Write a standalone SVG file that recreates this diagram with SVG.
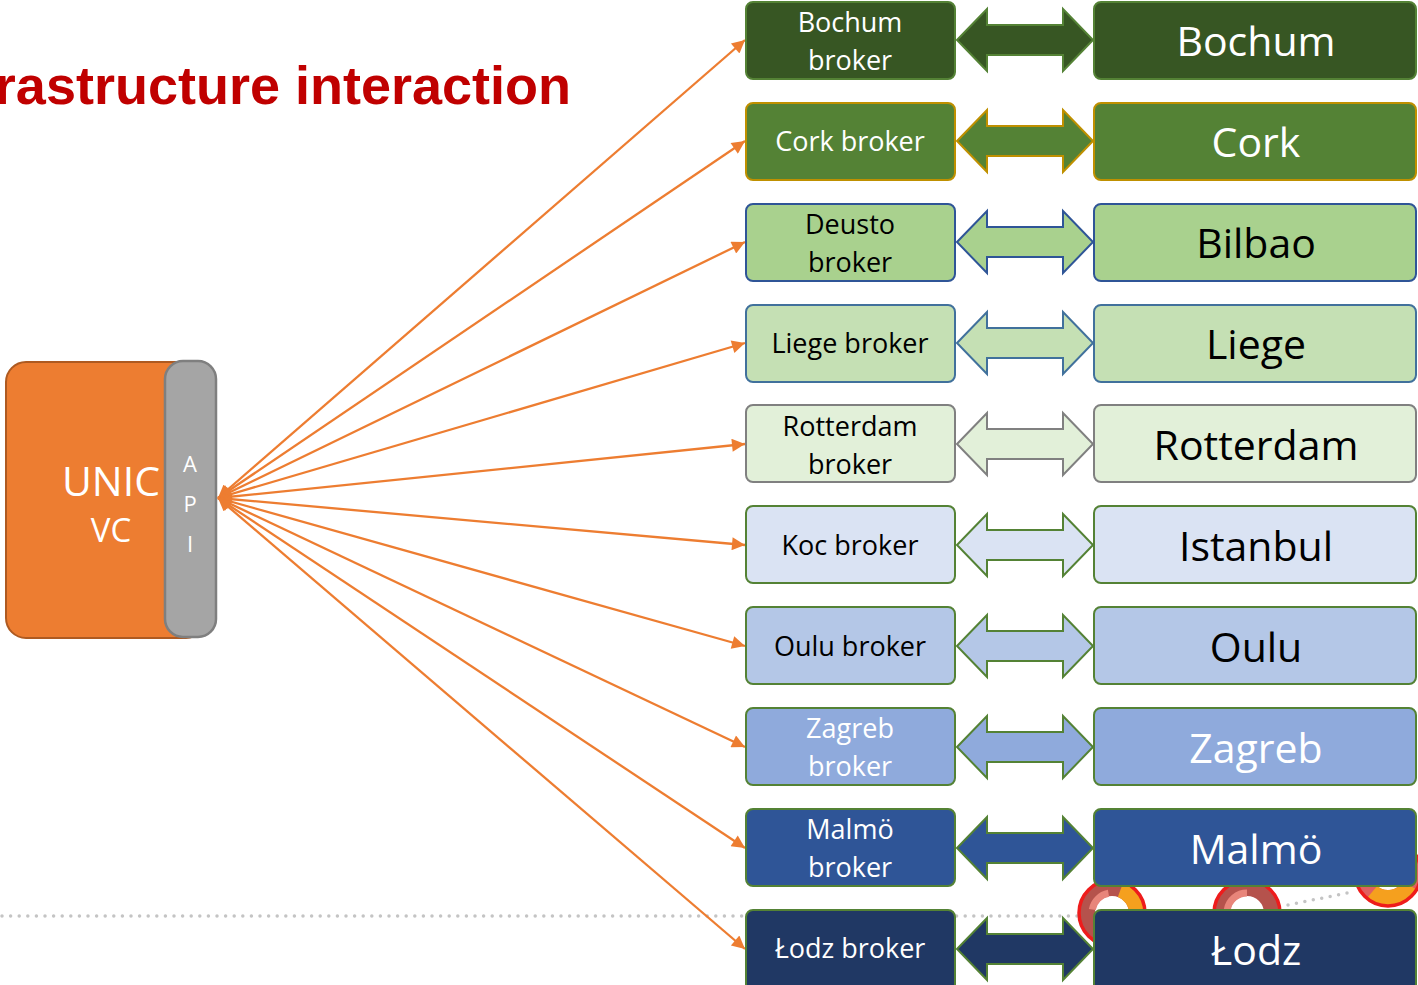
<svg xmlns="http://www.w3.org/2000/svg" width="1418" height="985" viewBox="0 0 1418 985">
<style>
.t{font-family:"Open Sans","Noto Sans","Liberation Sans",sans-serif;text-anchor:middle}
.b{font-size:27px}
.c{font-size:41px}
.w{fill:#FFFFFF}
.k{fill:#000000}
.con{stroke:#ED7D31;stroke-width:2.3;fill:none;marker-start:url(#ah);marker-end:url(#ah)}
.dot{stroke:#C4C4C4;stroke-width:3.5;stroke-linecap:round;stroke-dasharray:0 8.6;fill:none}
</style>
<defs>
<marker id="ah" viewBox="0 0 10 10" refX="10" refY="5" markerUnits="userSpaceOnUse" markerWidth="15" markerHeight="13" orient="auto-start-reverse">
<path d="M0,0 L10,5 L0,10 z" fill="#ED7D31"/>
</marker>
<path id="dbl" d="M957,0 L987,-31 L987,-15 L1063,-15 L1063,-31 L1093,0 L1063,31 L1063,15 L987,15 L987,31 z"/>
</defs>
<rect width="1418" height="985" fill="#FFFFFF"/>

<!-- background decorations -->
<g id="decor">
<line class="dot" x1="2" y1="916" x2="1094" y2="916"/>
<line class="dot" x1="1288" y1="905" x2="1352" y2="892"/>
<g fill="none">
<circle cx="1112" cy="913" r="25" stroke="#B5524C" stroke-width="16"/>
<path d="M1120.6,889.5 A25,25 0 0 1 1137,913" stroke="#F5A01E" stroke-width="16"/>
<path d="M1092.3,909.5 A20,20 0 0 1 1108.5,893.3" stroke="#E8857A" stroke-width="7"/>
<circle cx="1112" cy="913" r="33" stroke="#EE1C1C" stroke-width="3.5"/>
<circle cx="1247" cy="913" r="25" stroke="#B5524C" stroke-width="16"/>
<path d="M1227.3,909.5 A20,20 0 0 1 1247,893" stroke="#E8857A" stroke-width="7"/>
<circle cx="1247" cy="913" r="33" stroke="#EE1C1C" stroke-width="3.5"/>
<circle cx="1388" cy="873" r="25" stroke="#E06060" stroke-width="16"/>
<path d="M1409.7,885.5 A25,25 0 0 1 1372,892.2" stroke="#F5A01E" stroke-width="16"/>
<circle cx="1388" cy="873" r="33" stroke="#EE1C1C" stroke-width="3.5"/>
</g>
</g>

<g id="title">
<text x="571" y="104" font-family="'Liberation Sans',Arial,sans-serif" font-weight="bold" font-size="54" fill="#C00000" text-anchor="end">rastructure interaction</text>
</g>

<g id="unic">
<rect x="6" y="362" width="200" height="276" rx="20" fill="#ED7D31" stroke="#AE5A21" stroke-width="2"/>
<text class="t w" x="111" y="496" font-size="41">UNIC</text>
<text class="t w" x="111" y="542" font-size="33">VC</text>
</g>
<g id="api">
<rect x="165" y="361" width="51" height="276" rx="18" fill="#A5A5A5" stroke="#7F7F7F" stroke-width="2.5"/>
<text class="t w" x="190" y="472" font-size="22">A</text>
<text class="t w" x="190" y="512" font-size="22">P</text>
<text class="t w" x="190" y="552" font-size="22">I</text>
</g>

<g id="connectors">
<line class="con" x1="218" y1="498" x2="745" y2="40"/>
<line class="con" x1="218" y1="498" x2="745" y2="141"/>
<line class="con" x1="218" y1="498" x2="745" y2="242"/>
<line class="con" x1="218" y1="498" x2="745" y2="343"/>
<line class="con" x1="218" y1="498" x2="745" y2="444"/>
<line class="con" x1="218" y1="498" x2="745" y2="545"/>
<line class="con" x1="218" y1="498" x2="745" y2="646"/>
<line class="con" x1="218" y1="498" x2="745" y2="747"/>
<line class="con" x1="218" y1="498" x2="745" y2="848"/>
<line class="con" x1="218" y1="498" x2="745" y2="949"/>
</g>

<!-- Row 1 Bochum -->
<g id="bochum-broker"><rect x="746" y="2" width="209" height="77" rx="7" fill="#375623" stroke="#548235" stroke-width="2"/>
<text class="t b w" x="850" y="32">Bochum</text><text class="t b w" x="850" y="70">broker</text></g>
<g id="bochum-link"><use href="#dbl" y="40" fill="#375623" stroke="#548235" stroke-width="2"/></g>
<g id="bochum"><rect x="1094" y="2" width="322" height="77" rx="7" fill="#375623" stroke="#548235" stroke-width="2"/>
<text class="t c w" x="1256" y="56">Bochum</text></g>

<!-- Row 2 Cork -->
<g id="cork-broker"><rect x="746" y="103" width="209" height="77" rx="7" fill="#548235" stroke="#BF9000" stroke-width="2"/>
<text class="t b w" x="850" y="151">Cork broker</text></g>
<g id="cork-link"><use href="#dbl" y="141" fill="#548235" stroke="#BF9000" stroke-width="2"/></g>
<g id="cork"><rect x="1094" y="103" width="322" height="77" rx="7" fill="#548235" stroke="#BF9000" stroke-width="2"/>
<text class="t c w" x="1256" y="157">Cork</text></g>

<!-- Row 3 Deusto / Bilbao -->
<g id="deusto-broker"><rect x="746" y="204" width="209" height="77" rx="7" fill="#A9D18E" stroke="#2F5597" stroke-width="2"/>
<text class="t b k" x="850" y="234">Deusto</text><text class="t b k" x="850" y="272">broker</text></g>
<g id="deusto-link"><use href="#dbl" y="242" fill="#A9D18E" stroke="#2F5597" stroke-width="2"/></g>
<g id="bilbao"><rect x="1094" y="204" width="322" height="77" rx="7" fill="#A9D18E" stroke="#2F5597" stroke-width="2"/>
<text class="t c k" x="1256" y="258">Bilbao</text></g>

<!-- Row 4 Liege -->
<g id="liege-broker"><rect x="746" y="305" width="209" height="77" rx="7" fill="#C5E0B4" stroke="#41719C" stroke-width="2"/>
<text class="t b k" x="850" y="353">Liege broker</text></g>
<g id="liege-link"><use href="#dbl" y="343" fill="#C5E0B4" stroke="#41719C" stroke-width="2"/></g>
<g id="liege"><rect x="1094" y="305" width="322" height="77" rx="7" fill="#C5E0B4" stroke="#41719C" stroke-width="2"/>
<text class="t c k" x="1256" y="359">Liege</text></g>

<!-- Row 5 Rotterdam -->
<g id="rotterdam-broker"><rect x="746" y="405" width="209" height="77" rx="7" fill="#E2F0D9" stroke="#808080" stroke-width="2"/>
<text class="t b k" x="850" y="436">Rotterdam</text><text class="t b k" x="850" y="474">broker</text></g>
<g id="rotterdam-link"><use href="#dbl" y="444" fill="#E2F0D9" stroke="#808080" stroke-width="2"/></g>
<g id="rotterdam"><rect x="1094" y="405" width="322" height="77" rx="7" fill="#E2F0D9" stroke="#808080" stroke-width="2"/>
<text class="t c k" x="1256" y="460">Rotterdam</text></g>

<!-- Row 6 Koc / Istanbul -->
<g id="koc-broker"><rect x="746" y="506" width="209" height="77" rx="7" fill="#DAE3F3" stroke="#548235" stroke-width="2"/>
<text class="t b k" x="850" y="555">Koc broker</text></g>
<g id="koc-link"><use href="#dbl" y="545" fill="#DAE3F3" stroke="#548235" stroke-width="2"/></g>
<g id="istanbul"><rect x="1094" y="506" width="322" height="77" rx="7" fill="#DAE3F3" stroke="#548235" stroke-width="2"/>
<text class="t c k" x="1256" y="561">Istanbul</text></g>

<!-- Row 7 Oulu -->
<g id="oulu-broker"><rect x="746" y="607" width="209" height="77" rx="7" fill="#B4C7E7" stroke="#548235" stroke-width="2"/>
<text class="t b k" x="850" y="656">Oulu broker</text></g>
<g id="oulu-link"><use href="#dbl" y="646" fill="#B4C7E7" stroke="#548235" stroke-width="2"/></g>
<g id="oulu"><rect x="1094" y="607" width="322" height="77" rx="7" fill="#B4C7E7" stroke="#548235" stroke-width="2"/>
<text class="t c k" x="1256" y="662">Oulu</text></g>

<!-- Row 8 Zagreb -->
<g id="zagreb-broker"><rect x="746" y="708" width="209" height="77" rx="7" fill="#8FAADC" stroke="#548235" stroke-width="2"/>
<text class="t b w" x="850" y="738">Zagreb</text><text class="t b w" x="850" y="776">broker</text></g>
<g id="zagreb-link"><use href="#dbl" y="747" fill="#8FAADC" stroke="#548235" stroke-width="2"/></g>
<g id="zagreb"><rect x="1094" y="708" width="322" height="77" rx="7" fill="#8FAADC" stroke="#548235" stroke-width="2"/>
<text class="t c w" x="1256" y="763">Zagreb</text></g>

<!-- Row 9 Malmö -->
<g id="malmo-broker"><rect x="746" y="809" width="209" height="77" rx="7" fill="#2F5597" stroke="#548235" stroke-width="2"/>
<text class="t b w" x="850" y="839">Malmö</text><text class="t b w" x="850" y="877">broker</text></g>
<g id="malmo-link"><use href="#dbl" y="848" fill="#2F5597" stroke="#548235" stroke-width="2"/></g>
<g id="malmo"><rect x="1094" y="809" width="322" height="77" rx="7" fill="#2F5597" stroke="#548235" stroke-width="2"/>
<text class="t c w" x="1256" y="864">Malmö</text></g>

<!-- Row 10 Łodz -->
<g id="lodz-broker"><rect x="746" y="910" width="209" height="85" rx="7" fill="#203864" stroke="#548235" stroke-width="2"/>
<text class="t b w" x="850" y="958">Łodz broker</text></g>
<g id="lodz-link"><use href="#dbl" y="949" fill="#203864" stroke="#548235" stroke-width="2"/></g>
<g id="lodz"><rect x="1094" y="910" width="322" height="85" rx="7" fill="#203864" stroke="#548235" stroke-width="2"/>
<text class="t c w" x="1256" y="965">Łodz</text></g>
</svg>
